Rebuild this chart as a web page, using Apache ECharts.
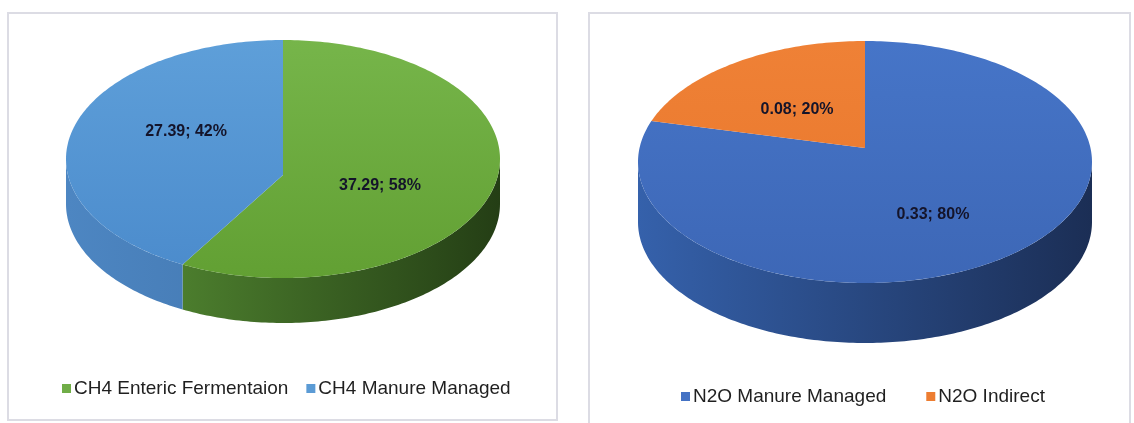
<!DOCTYPE html>
<html>
<head>
<meta charset="utf-8">
<script src="https://cdn.jsdelivr.net/npm/echarts@6/dist/echarts.min.js"></script>
<style>
html,body{margin:0;padding:0;background:#fff;}
#chart{width:1134px;height:423px;}
</style>
</head>
<body>
<div id="chart"></div>
<script>
// ---- data ----
const ch4Categories = ['CH4 Enteric Fermentaion', 'CH4 Manure Managed'];
const ch4Values = [37.29, 27.39];
const ch4Percents = [58, 42];

const n2oCategories = ['N2O Manure Managed', 'N2O Indirect'];
const n2oValues = [0.33, 0.08];
const n2oPercents = [80, 20];

// ---- styling / layout ----
const FONT = '"Liberation Sans", Arial, sans-serif';
const pies = [
  {
    cats: ch4Categories, vals: ch4Values, pcts: ch4Percents,
    cx: 283, cy: 159, rx: 217, ry: 119, depth: 45, apexDy: 16, lfx: 0.46, lfy: 0.95,
    top: [['#76b54a', '#62a033'], ['#5e9fd9', '#4b8bcc']],
    wall: [['#5a9436', '#243e15'], ['#4d86c2', '#3a6aa0']],
    legendColor: ['#70ad47', '#5b9bd5']
  },
  {
    cats: n2oCategories, vals: n2oValues, pcts: n2oPercents,
    cx: 865, cy: 162, rx: 227, ry: 121, depth: 60, apexDy: -14, lfx: 0.52, lfy: 0.53,
    top: [['#4675c8', '#3d67b6'], ['#ef8136', '#e8762b']],
    wall: [['#3561ab', '#1b2e55'], ['#c4631f', '#9c4e17']],
    legendColor: ['#4472c4', '#ed7d31']
  }
];

function pt(P, t, dy) {
  return [P.cx + P.rx * Math.sin(t), P.cy - P.ry * Math.cos(t) + (dy || 0)];
}
function arc(P, a0, a1, dy) {
  const pts = [];
  const n = Math.max(2, Math.ceil((a1 - a0) / (Math.PI / 180)));
  for (let k = 0; k <= n; k++) pts.push(pt(P, a0 + (a1 - a0) * k / n, dy));
  return pts;
}

function makeRender(p, i) {
  return function (params, api) {
    const P = pies[p];
    const total = P.vals.reduce((s, v) => s + v, 0);
    let before = 0;
    for (let k = 0; k < i; k++) before += P.vals[k];
    const v = api.value(0);
    const a0 = before / total * Math.PI * 2;
    const a1 = (before + v) / total * Math.PI * 2;
    const children = [];
    // front wall
    const s = Math.max(a0, Math.PI / 2), e = Math.min(a1, Math.PI * 1.5);
    if (s < e) {
      const topPts = arc(P, s, e, 0);
      const botPts = arc(P, s, e, P.depth).reverse();
      children.push({
        type: 'polygon', z2: 1,
        shape: { points: topPts.concat(botPts) },
        style: {
          fill: {
            type: 'linear', global: true,
            x: P.cx - P.rx, y: 0, x2: P.cx + P.rx, y2: 0,
            colorStops: [{ offset: 0, color: P.wall[i][0] }, { offset: 1, color: P.wall[i][1] }]
          }
        }
      });
    }
    // top face
    children.push({
      type: 'polygon', z2: 10,
      shape: { points: [[P.cx, P.cy + P.apexDy]].concat(arc(P, a0, a1, 0)) },
      style: {
        fill: {
          type: 'linear', global: true,
          x: 0, y: P.cy - P.ry, x2: 0, y2: P.cy + P.ry,
          colorStops: [{ offset: 0, color: P.top[i][0] }, { offset: 1, color: P.top[i][1] }]
        }
      }
    });
    // label
    const m = (a0 + a1) / 2;
    const lp = [P.cx + P.lfx * P.rx * Math.sin(m), P.cy - P.lfy * P.ry * Math.cos(m)];
    children.push({
      type: 'text', z2: 20,
      x: lp[0], y: lp[1],
      style: {
        text: v + '; ' + P.pcts[i] + '%',
        fill: '#14142a', font: 'bold 16px ' + FONT,
        align: 'center', verticalAlign: 'middle'
      }
    });
    return { type: 'group', children: children };
  };
}

const series = [];
pies.forEach((P, p) => {
  P.cats.forEach((name, i) => {
    series.push({
      type: 'custom', name: name, coordinateSystem: 'none',
      itemStyle: { color: P.legendColor[i] },
      data: [[P.vals[i]]],
      renderItem: makeRender(p, i),
      silent: true, animation: false
    });
  });
});

const chart = echarts.init(document.getElementById('chart'));
chart.setOption({
  animation: false,
  graphic: [
    { type: 'rect', shape: { x: 8, y: 13, width: 549, height: 407 }, style: { fill: 'none', stroke: '#dcdce4', lineWidth: 2 }, z: -1 },
    { type: 'rect', shape: { x: 589, y: 13, width: 541, height: 420 }, style: { fill: 'none', stroke: '#dcdce4', lineWidth: 2 }, z: -1 }
  ],
  legend: [
    {
      data: ch4Categories, left: 57, top: 374, icon: 'rect', itemWidth: 9, itemHeight: 9, itemGap: 18,
      textStyle: { fontFamily: FONT, fontSize: 19, color: '#1f1f1f', padding: [0, 0, 0, -2] }
    },
    {
      data: n2oCategories, left: 676, top: 382, icon: 'rect', itemWidth: 9, itemHeight: 9, itemGap: 40,
      textStyle: { fontFamily: FONT, fontSize: 19, color: '#1f1f1f', padding: [0, 0, 0, -2] }
    }
  ],
  series: series
});
</script>
</body>
</html>
